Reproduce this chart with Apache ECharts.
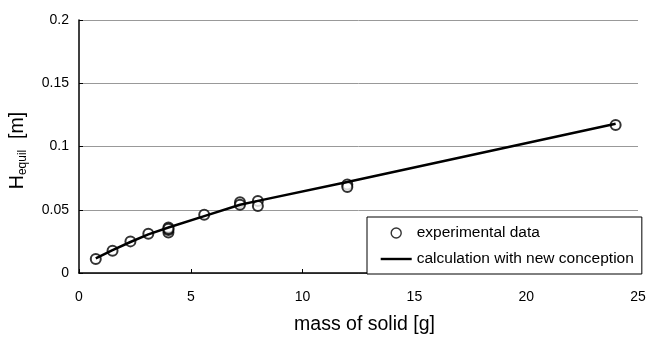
<!DOCTYPE html>
<html>
<head>
<meta charset="utf-8">
<script src="https://cdn.jsdelivr.net/npm/echarts@6/dist/echarts.min.js"></script>
<style>html,body{margin:0;padding:0;background:#fff}#c{width:647px;height:337px}</style>
</head>
<body>
<div id="c"></div>
<script>
// experimental data
const expX = [0.75, 1.5, 2.3, 3.1, 4, 4, 4, 4, 5.6, 7.2, 7.2, 8, 8, 12, 12, 24];
const expY = [0.011, 0.0175, 0.025, 0.031, 0.032, 0.034, 0.036, 0.035, 0.046, 0.056, 0.054, 0.057, 0.053, 0.070, 0.068, 0.117];
// calculation with new conception
const calcX = [0.75, 1.5, 2.3, 3.1, 4, 5.6, 7.2, 8, 12, 24];
const calcY = [0.0115, 0.018, 0.0245, 0.0305, 0.036, 0.045, 0.054, 0.057, 0.072, 0.118];
const xTicks = [0, 5, 10, 15, 20, 25];
const yTicks = [0, 0.05, 0.1, 0.15, 0.2];

const chart = echarts.init(document.getElementById('c'), null, {renderer: 'canvas'});
const font = 'Liberation Sans, Arial, sans-serif';
chart.setOption({
  animation: false,
  backgroundColor: '#fff',
  textStyle: {fontFamily: font},
  grid: {left: 79, right: 9, top: 20, bottom: 64, show: false, containLabel: false, outerBoundsMode: 'none'},
  legend: {
    orient: 'vertical', left: 367, top: 217,
    backgroundColor: '#fff',
    borderColor: '#000', borderWidth: 1,
    padding: [8, 8, 7, 13],
    itemGap: 10, itemWidth: 31, itemHeight: 14,
    textStyle: {fontFamily: font, fontSize: 15.5, color: '#000'},
    data: [
      {name: 'experimental data',
       icon: 'path://M0,0M31,14M10.5,7A5,5,0,1,1,20.5,7A5,5,0,1,1,10.5,7Z',
       itemStyle: {color: '#fff', borderColor: '#000', borderWidth: 1.4}},
      {name: 'calculation with new conception',
       icon: 'path://M0,0M31,14M0,5.8L31,5.8L31,8.2L0,8.2Z',
       itemStyle: {color: '#000', borderWidth: 0}}
    ]
  },
  xAxis: {
    type: 'value', min: xTicks[0], max: xTicks[xTicks.length - 1], interval: 5,
    name: 'mass of solid [g]', nameLocation: 'middle', nameGap: 42, nameMoveOverlap: false,
    nameTextStyle: {fontSize: 19.5, color: '#000', fontFamily: font, padding: [0, 0, 0, 12]},
    axisLine: {lineStyle: {color: '#000', width: 1.5}},
    axisTick: {inside: true, length: 4, lineStyle: {color: '#000'}},
    axisLabel: {fontSize: 14, color: '#000', margin: 17, fontFamily: font},
    splitLine: {show: false}
  },
  yAxis: {
    type: 'value', min: yTicks[0], max: yTicks[yTicks.length - 1], interval: 0.05,
    name: '{a|H}{b|equil}{a|  [m]}', nameLocation: 'middle', nameGap: 50, nameMoveOverlap: false,
    nameTextStyle: {
      color: '#000', fontFamily: font, padding: [0, 8, 0, 0],
      rich: {
        a: {fontSize: 19.5, color: '#000', fontFamily: font},
        b: {fontSize: 12, color: '#000', fontFamily: font, verticalAlign: 'bottom', padding: [10, 0, 0, 0]}
      }
    },
    axisLine: {show: true, lineStyle: {color: '#000', width: 1.5}},
    axisTick: {show: true, inside: true, length: 4, lineStyle: {color: '#000'}},
    axisLabel: {fontSize: 14, color: '#000', margin: 10, fontFamily: font,
      formatter: v => String(+v.toFixed(2))},
    splitLine: {show: true, lineStyle: {color: '#999', width: 1}}
  },
  series: [
    {
      name: 'experimental data', type: 'scatter',
      data: expX.map((x, i) => [x, expY[i]]),
      symbol: 'emptyCircle', symbolSize: 10,
      itemStyle: {color: '#000', borderColor: '#000', borderWidth: 1.3},
      z: 3
    },
    {
      name: 'calculation with new conception', type: 'line',
      data: calcX.map((x, i) => [x, calcY[i]]),
      symbol: 'none',
      lineStyle: {color: '#000', width: 2.5},
      itemStyle: {color: '#000'},
      z: 4
    }
  ]
});
</script>
</body>
</html>
